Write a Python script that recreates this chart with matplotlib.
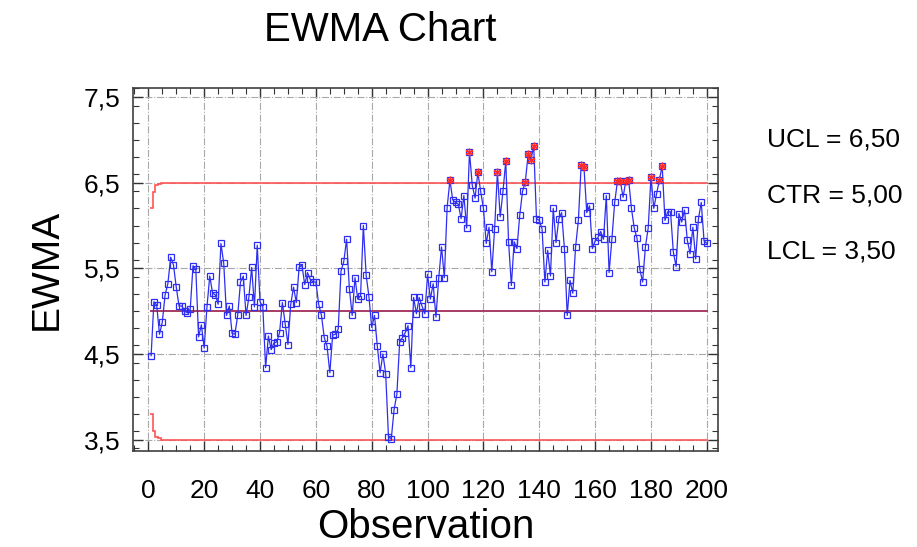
import numpy as np
import matplotlib.pyplot as plt
from matplotlib.ticker import MultipleLocator, FuncFormatter

plt.rcParams['font.family'] = ['Liberation Sans', 'DejaVu Sans']

# EWMA statistic for observations 1..200
ewma = [
    4.48, 5.11, 5.07, 4.73, 4.87, 5.19, 5.32, 5.63, 5.54, 5.28,
    5.06, 5.06, 5.00, 4.98, 5.02, 5.53, 5.49, 4.70, 4.84, 4.57,
    5.05, 5.41, 5.21, 5.19, 5.08, 5.79, 5.56, 4.95, 5.06, 4.74,
    4.73, 4.95, 5.34, 5.41, 4.95, 5.16, 5.51, 5.05, 5.77, 5.11,
    5.05, 4.34, 4.71, 4.55, 4.63, 4.64, 4.75, 5.10, 4.85, 4.61,
    5.08, 5.28, 5.10, 5.51, 5.54, 5.31, 5.45, 5.37, 5.34, 5.34,
    5.08, 4.95, 4.69, 4.59, 4.28, 4.72, 4.73, 4.79, 5.47, 5.58,
    5.84, 5.26, 4.95, 5.39, 5.14, 5.18, 6.00, 5.42, 5.17, 4.81,
    4.95, 4.59, 4.28, 4.50, 4.27, 3.53, 3.51, 3.85, 4.03, 4.64,
    4.69, 4.75, 4.83, 4.34, 5.16, 4.97, 5.16, 5.06, 4.97, 5.43,
    5.14, 5.32, 4.93, 5.39, 5.75, 5.39, 6.21, 6.53, 6.30, 6.27,
    6.25, 6.08, 6.35, 5.97, 6.86, 6.47, 6.32, 6.62, 6.40, 6.20,
    5.79, 5.98, 5.46, 5.96, 6.62, 6.10, 6.40, 6.75, 5.81, 5.30,
    5.81, 5.73, 6.12, 6.40, 6.51, 6.83, 6.77, 6.93, 6.08, 6.06,
    5.96, 5.34, 5.71, 5.41, 6.20, 5.80, 6.08, 6.15, 5.73, 4.95,
    5.36, 5.21, 5.75, 6.06, 6.71, 6.68, 6.15, 6.23, 5.73, 5.82,
    5.86, 5.93, 5.84, 6.35, 5.45, 5.84, 6.27, 6.52, 6.52, 6.33,
    6.52, 6.53, 6.20, 5.97, 5.85, 5.49, 5.34, 5.75, 5.97, 6.57,
    6.20, 6.37, 6.53, 6.70, 6.06, 6.16, 6.16, 5.69, 5.52, 6.14,
    6.04, 6.18, 5.83, 5.67, 5.98, 5.61, 6.08, 6.27, 5.82, 5.79,
]

center = 5.0
ucl_value = 6.5
lcl_value = 3.5
# share of the full limit width at the first observations
limit_ramp = [0.80, 0.93, 0.98, 0.99]

ewma = np.array(ewma)
obs = np.arange(1, len(ewma) + 1)
ramp = np.ones(len(obs))
ramp[:len(limit_ramp)] = limit_ramp
ucl = center + (ucl_value - center) * ramp
lcl = center - (center - lcl_value) * ramp
edges = np.append(obs - 0.5, obs[-1] + 0.5)

fig = plt.figure(figsize=(9.17, 5.47), dpi=100)
ax = fig.add_axes([0.145, 0.176, 0.638, 0.663])

ax.grid(True, which='major', linestyle='-.', color='#a8a8a8', linewidth=0.8)
ax.set_axisbelow(True)

ax.stairs(ucl, edges, baseline=None, color='#ff5555', linewidth=1.2)
ax.stairs(lcl, edges, baseline=None, color='#ff5555', linewidth=1.2)
ax.hlines(center, edges[0], edges[-1], color='#9a1a4a', linewidth=1.2)

blue = '#2e2ef0'
ax.plot(obs, ewma, color=blue, linewidth=0.9, marker='s', markersize=4.5,
        markerfacecolor='none', markeredgecolor=blue, markeredgewidth=0.9)
out = (ewma > ucl) | (ewma < lcl)
ax.plot(obs[out], ewma[out], linestyle='none', marker=(6, 2, 0),
        markersize=5.5, color='#ff2a2a', markeredgewidth=1.0)

ax.set_xlim(-5.5, 204)
ax.set_ylim(3.37, 7.605)
ax.xaxis.set_major_locator(MultipleLocator(20))
ax.xaxis.set_minor_locator(MultipleLocator(5))
ax.yaxis.set_minor_locator(MultipleLocator(0.2))
ax.set_yticks([3.5, 4.5, 5.5, 6.5, 7.5])
ax.yaxis.set_major_formatter(FuncFormatter(lambda v, p: f'{v:.1f}'.replace('.', ',')))

ax.tick_params(which='both', direction='in', top=True, right=True,
               labelsize=19, colors='#333333', labelcolor='black')
ax.tick_params(which='major', length=7, width=1)
ax.tick_params(which='minor', length=4, width=0.8)
ax.tick_params(axis='x', which='major', pad=20)
ax.tick_params(axis='y', which='major', pad=9)
for s in ax.spines.values():
    s.set_color('#404040')
    s.set_linewidth(1.2)

ax.set_xlabel('Observation', fontsize=29, labelpad=4)
ax.set_ylabel('EWMA', fontsize=28, labelpad=14)
fig.text(380 / 917, 1 - 30 / 547, 'EWMA Chart', ha='center', va='center', fontsize=29)

labels = [f'UCL = {ucl_value:.2f}', f'CTR = {center:.2f}', f'LCL = {lcl_value:.2f}']
for k, txt in enumerate(labels):
    fig.text(767 / 917, 1 - (140 + 56 * k) / 547, txt.replace('.', ','),
             ha='left', va='center', fontsize=19)

fig.savefig('out.png', dpi=100)
